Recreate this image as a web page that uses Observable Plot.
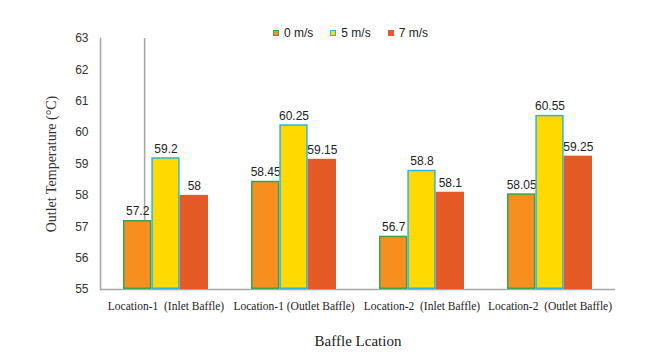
<!DOCTYPE html>
<html>
<head>
<meta charset="utf-8">
<script src="https://cdn.jsdelivr.net/npm/d3@7"></script>
<script src="https://cdn.jsdelivr.net/npm/@observablehq/plot@0.6"></script>
<style>
  html, body { margin: 0; padding: 0; background: #fff; }
  #wrap { position: relative; width: 660px; height: 356px; background: #fff; }
  #legend { position: absolute; top: 26px; left: 273px; z-index: 4; display: flex; font: 12px "Liberation Sans", Arial, sans-serif; color: #222; }
  #legend .item { display: flex; align-items: center; margin-right: 17px; }
  #legend .sw { width: 4px; height: 4px; border-width: 1.5px; border-style: solid; margin-right: 5px; }
  svg [aria-label="y-axis tick label"] { font-family: "Liberation Sans", Arial, sans-serif; font-size: 12px; }
  svg [aria-label="x-axis tick label"] { font-family: "Liberation Serif", "Times New Roman", serif; font-size: 11.5px; }
  svg [aria-label="x-axis label"] { font-family: "Liberation Serif", "Times New Roman", serif; font-size: 15px; }
  svg [aria-label="y-axis label"] { font-family: "Liberation Serif", "Times New Roman", serif; font-size: 14px; }
</style>
</head>
<body>
<div id="wrap">
  <div id="chart"></div>
  <div id="legend"></div>
</div>
<script>
const locations = ["Location-1  (Inlet Baffle)", "Location-1 (Outlet Baffle)", "Location-2  (Inlet Baffle)", "Location-2  (Outlet Baffle)"];
const speeds = ["0 m/s", "5 m/s", "7 m/s"];
const temp0 = [57.2, 58.45, 56.7, 58.05];
const temp5 = [59.2, 60.25, 58.8, 60.55];
const temp7 = [58, 59.15, 58.1, 59.25];
const yTicks = [55, 56, 57, 58, 59, 60, 61, 62, 63];
const fillColors = ["#F68F1E", "#FFD900", "#E35A26"];
const strokeColors = ["#35A84A", "#2DB4E6", "#E35A26"];

const series = [temp0, temp5, temp7];
const yMin = yTicks[0];
const yMax = yTicks[yTicks.length - 1];
const yDomain = [yMin, yMax];

const dims = {width: 660, height: 356, marginLeft: 100, marginRight: 45, marginTop: 38, marginBottom: 67};
const xScale = {domain: locations, paddingInner: 0.333, paddingOuter: 0.167, label: "Baffle Lcation"};

// probe the band scale to learn the group width
const probe = Plot.plot({...dims, x: xScale, y: {domain: yDomain}, marks: [Plot.barY(locations, {x: d => d, y1: () => yMin, y2: () => yMax})]});
const xs = probe.scale("x");
const bw = (xs && xs.bandwidth) ? xs.bandwidth : (660 - 145) / 4 * 0.667;
const third = bw / 3;

const marks = [
  Plot.ruleY([yMin], {stroke: "#a8a8a8", strokeWidth: 1.6}),
  Plot.ruleX([locations[0]], {x: () => locations[0], dx: -(xs && xs.step ? xs.step * 0.167 : 21.5), y1: () => yMin, y2: () => yMax, stroke: "#a8a8a8", strokeWidth: 1.6, insetLeft: 0})
];
speeds.forEach((s, j) => {
  const rows = locations.map((loc, i) => ({loc, speed: s, value: series[j][i]}));
  marks.push(Plot.barY(rows, {
    x: "loc", y1: () => yMin, y2: "value",
    fill: fillColors[j], stroke: strokeColors[j], strokeWidth: 1.5,
    insetLeft: j * third + 0.75, insetRight: (2 - j) * third + 0.75, insetTop: 0.75, insetBottom: 0.75
  }));
  marks.push(Plot.text(rows, {
    x: "loc", y: "value", text: d => String(d.value), dx: (j - 1) * third,
    lineAnchor: "bottom", dy: -5, fontSize: 12, fill: "#222",
    fontFamily: "Liberation Sans, Arial, sans-serif"
  }));
});
marks.push(Plot.axisY({ticks: yTicks, tickSize: 0, tickPadding: 12, label: "Outlet Temperature (°C)", labelArrow: "none", labelAnchor: "center", labelOffset: 54, fill: "#333"}));
marks.push(Plot.axisX({anchor: "bottom", tickSize: 0, tickPadding: 12, label: "Baffle Lcation", labelArrow: "none", labelAnchor: "center", labelOffset: 56, fill: "#222"}));
marks.push(Plot.frame({anchor: "left", stroke: "#a8a8a8", strokeWidth: 1.6}));

const chart = Plot.plot({
  ...dims,
  style: {fontFamily: "Liberation Sans, Arial, sans-serif", color: "#222", background: "#fff"},
  x: xScale,
  y: {domain: yDomain},
  marks
});
document.getElementById("chart").appendChild(chart);

const legend = document.getElementById("legend");
speeds.forEach((s, j) => {
  const item = document.createElement("div");
  item.className = "item";
  const sw = document.createElement("div");
  sw.className = "sw";
  sw.style.backgroundColor = fillColors[j];
  sw.style.borderColor = strokeColors[j];
  item.appendChild(sw);
  const t = document.createElement("span");
  t.textContent = s;
  item.appendChild(t);
  legend.appendChild(item);
});
</script>
</body>
</html>
